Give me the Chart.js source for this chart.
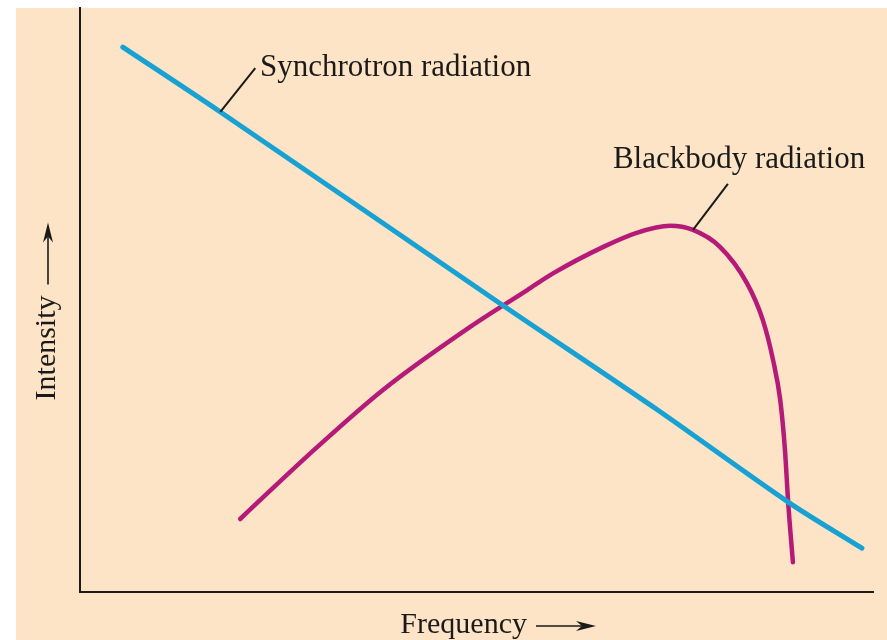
<!DOCTYPE html>
<html>
<head>
<meta charset="utf-8">
<script src="https://cdn.jsdelivr.net/npm/chart.js@4"></script>
<style>
  html, body { margin: 0; padding: 0; background: #fff; }
  canvas { display: block; }
</style>
</head>
<body>
<canvas id="radChart" width="887" height="640"></canvas>
<script>
// arbitrary units, both axes 0..10
const synchrotronX = [0.54, 1.77, 5.33, 7.28, 8.93, 9.86];
const synchrotronY = [9.33, 8.22, 4.91, 3.12, 1.54, 0.75];

const blackbodyX = [2.02, 2.23, 2.99, 3.82, 4.92, 5.64, 5.97, 6.60, 7.02, 7.44, 7.73, 8.07, 8.41, 8.61, 8.74, 8.83, 8.89, 8.93, 8.99];
const blackbodyY = [1.25, 1.52, 2.48, 3.46, 4.54, 5.17, 5.46, 5.91, 6.15, 6.27, 6.20, 5.91, 5.29, 4.66, 3.97, 3.29, 2.43, 1.54, 0.51];

const xTitle = 'Frequency';
const yTitle = 'Intensity';

// labels with leader lines: [text, text x, text y, leader from x,y, leader to x,y]
const labels = [
  ['Synchrotron radiation', 2.27, 8.84, 1.77, 8.22, 2.21, 8.97],
  ['Blackbody radiation', 6.72, 7.26, 7.73, 6.20, 8.17, 6.99]
];

const toPoints = (xs, ys) => xs.map((x, i) => ({ x: x, y: ys[i] }));

const backdrop = {
  id: 'backdrop',
  beforeDraw(chart) {
    const c = chart.ctx;
    c.save();
    c.fillStyle = '#ffffff';
    c.fillRect(0, 0, chart.width, chart.height);
    c.fillStyle = '#fde4c6';
    c.fillRect(16, 8, chart.width - 16, chart.height - 8);
    c.restore();
  }
};

// long thin arrow with a narrow filled head
function arrow(c, x1, y1, x2, y2) {
  const a = Math.atan2(y2 - y1, x2 - x1);
  const cos = Math.cos(a), sin = Math.sin(a);
  c.beginPath();
  c.moveTo(x1, y1);
  c.lineTo(x2 - 14 * cos, y2 - 14 * sin);
  c.lineWidth = 1.6;
  c.stroke();
  c.beginPath();
  c.moveTo(x2, y2);
  c.lineTo(x2 - 20 * cos + 5 * sin, y2 - 20 * sin - 5 * cos);
  c.lineTo(x2 - 14 * cos, y2 - 14 * sin);
  c.lineTo(x2 - 20 * cos - 5 * sin, y2 - 20 * sin + 5 * cos);
  c.closePath();
  c.fill();
}

const annotations = {
  id: 'annotations',
  afterDraw(chart) {
    const c = chart.ctx;
    const sx = chart.scales.x, sy = chart.scales.y;
    const area = chart.chartArea;
    c.save();
    c.fillStyle = '#1a1a1a';
    c.strokeStyle = '#1a1a1a';

    // series labels + leader lines
    c.font = '31px "Liberation Serif", "DejaVu Serif", serif';
    c.textBaseline = 'alphabetic';
    labels.forEach(l => {
      c.fillText(l[0], sx.getPixelForValue(l[1]), sy.getPixelForValue(l[2]));
      c.beginPath();
      c.lineWidth = 2;
      c.moveTo(sx.getPixelForValue(l[3]), sy.getPixelForValue(l[4]));
      c.lineTo(sx.getPixelForValue(l[5]), sy.getPixelForValue(l[6]));
      c.stroke();
    });

    // axis titles with arrows
    c.font = '30px "Liberation Serif", "DejaVu Serif", serif';
    const fx = sx.getPixelForValue(4.04);
    const fy = area.bottom + 41;
    c.fillText(xTitle, fx, fy);
    const fw = c.measureText(xTitle).width;
    arrow(c, fx + fw + 9, fy - 7, fx + fw + 69, fy - 7);

    const ix = area.left - 25;
    const iy = sy.getPixelForValue(3.28);
    c.translate(ix, iy);
    c.rotate(-Math.PI / 2);
    c.fillText(yTitle, 0, 0);
    const iw = c.measureText(yTitle).width;
    arrow(c, iw + 11, -7, iw + 73, -7);
    c.restore();
  }
};

new Chart(document.getElementById('radChart'), {
  type: 'line',
  data: {
    datasets: [
      {
        label: 'Synchrotron radiation',
        data: toPoints(synchrotronX, synchrotronY),
        borderColor: '#18a2d4',
        borderWidth: 5,
        pointRadius: 0,
        tension: 0.3,
        borderCapStyle: 'round'
      },
      {
        label: 'Blackbody radiation',
        data: toPoints(blackbodyX, blackbodyY),
        borderColor: '#b51a78',
        borderWidth: 4.5,
        pointRadius: 0,
        cubicInterpolationMode: 'monotone',
        borderCapStyle: 'round'
      }
    ]
  },
  options: {
    responsive: false,
    animation: false,
    layout: { padding: { top: 8, right: 14, left: 0, bottom: 0 } },
    plugins: {
      legend: { display: false },
      tooltip: { enabled: false }
    },
    scales: {
      x: {
        type: 'linear',
        min: 0,
        max: 10,
        grid: { display: false, drawTicks: false },
        ticks: { display: false },
        border: { color: '#1a1a1a', width: 2 },
        afterFit: s => { s.height = 48; }
      },
      y: {
        type: 'linear',
        min: 0,
        max: 10,
        grid: { display: false, drawTicks: false },
        ticks: { display: false },
        border: { color: '#1a1a1a', width: 2 },
        afterFit: s => { s.width = 80; }
      }
    }
  },
  plugins: [backdrop, annotations]
});
</script>
</body>
</html>
